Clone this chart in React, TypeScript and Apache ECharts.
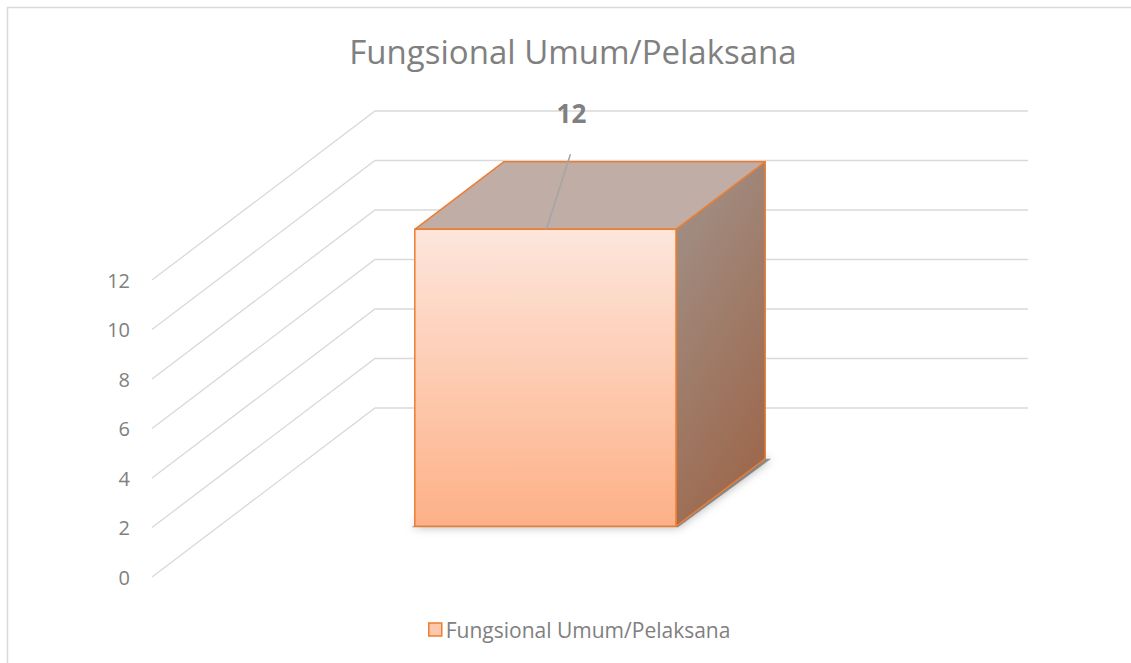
import React, { useEffect, useRef } from "react";
import * as echarts from "echarts";

const chartTitle = "Fungsional Umum/Pelaksana";
const categories = ["Fungsional Umum/Pelaksana"];
const seriesName = "Fungsional Umum/Pelaksana";
const values = [12];
const yTicks = [0, 2, 4, 6, 8, 10, 12];

const DX = 223;
const DY = -169;
const FRONT = 0.3;
const DEPTH = 0.4;
const EDGE = "#ED7D31";
const TEXT = "#808080";
const FONT = "'Open Sans', 'Noto Sans', sans-serif";

export default function App() {
  const ref = useRef<HTMLDivElement>(null);
  useEffect(() => {
    if (!ref.current) return;
    const chart = echarts.init(ref.current, undefined, { renderer: "svg" });
    const frontGrad = new echarts.graphic.LinearGradient(0, 0, 0, 1, [
      { offset: 0, color: "#FDE6DC" },
      { offset: 1, color: "#FDB087" },
    ]);
    const sideGrad = new echarts.graphic.LinearGradient(0, 0, 0.4, 1, [
      { offset: 0, color: "#A1938C" },
      { offset: 1, color: "#9D6A4F" },
    ]);
    const option: any = {
      animation: false,
      backgroundColor: "#fff",
      textStyle: { fontFamily: FONT },
      title: {
        text: chartTitle,
        left: 573,
        textAlign: "center",
        top: 35,
        padding: 0,
        textStyle: { fontSize: 33, fontWeight: "normal", color: TEXT, fontFamily: FONT },
      },
      graphic: [
        {
          type: "polyline",
          shape: { points: [[7.5, 900], [7.5, 7.5], [1400, 7.5]] },
          style: { fill: "none", stroke: "#D9D9D9", lineWidth: 1.5 },
          silent: true,
        },
      ],
      legend: {
        left: 428,
        top: 619,
        padding: 0,
        icon: "rect",
        itemWidth: 13,
        itemHeight: 13,
        itemGap: 6,
        textStyle: { fontSize: 21, color: TEXT, fontFamily: FONT, padding: [0, 0, 0, -1] },
        data: [
          {
            name: seriesName,
            itemStyle: { color: "#FDC8AC", borderColor: EDGE, borderWidth: 1.5 },
          },
        ],
      },
      grid: { left: 152, top: 280, width: 653, height: 297 },
      xAxis: {
        type: "category",
        data: categories,
        show: false,
        boundaryGap: true,
      },
      yAxis: {
        type: "value",
        min: 0,
        max: 12,
        interval: 2,
        axisLine: { show: false },
        axisTick: { show: false },
        splitLine: { show: false },
        axisLabel: { color: TEXT, fontSize: 20, margin: 22, fontFamily: FONT },
      },
      series: [
        {
          type: "custom",
          name: "walls",
          silent: true,
          z: 1,
          data: yTicks.map((v) => [0, v]),
          renderItem: (params: any, api: any) => {
            const cs = params.coordSys;
            const p = api.coord([0, api.value(1)]);
            const y = p[1];
            return {
              type: "polyline",
              shape: {
                points: [
                  [cs.x, y],
                  [cs.x + DX, y + DY],
                  [cs.x + cs.width + DX, y + DY],
                ],
              },
              style: { fill: "none", stroke: "#D9D9D9", lineWidth: 1.3 },
            };
          },
        },
        {
          type: "custom",
          name: seriesName,
          z: 2,
          itemStyle: { color: "#FDC8AC", borderColor: EDGE },
          data: values.map((v, i) => [i, v]),
          renderItem: (params: any, api: any) => {
            const base = api.coord([api.value(0), 0]);
            const top = api.coord([api.value(0), api.value(1)]);
            const bw = api.size([1, 0])[0] * 0.4;
            const xL = base[0] - bw / 2 + FRONT * DX;
            const xR = xL + bw;
            const yB = base[1] + FRONT * DY;
            const yT = top[1] + FRONT * DY;
            const ddx = DEPTH * DX;
            const ddy = DEPTH * DY;
            const cx = (xL + xR) / 2;
            return {
              type: "group",
              children: [
                {
                  type: "polygon",
                  shape: {
                    points: [
                      [xL - 3, yB + 1],
                      [xR + 2, yB + 1],
                      [xR + ddx + 6, yB + ddy],
                      [xL + ddx, yB + ddy],
                    ],
                  },
                  style: {
                    fill: "rgba(80,80,80,0.6)",
                    shadowBlur: 10,
                    shadowColor: "rgba(0,0,0,0.5)",
                  },
                },
                {
                  type: "polygon",
                  shape: {
                    points: [
                      [xR, yT],
                      [xR + ddx, yT + ddy],
                      [xR + ddx, yB + ddy],
                      [xR, yB],
                    ],
                  },
                  style: { fill: sideGrad, stroke: EDGE, lineWidth: 1.5, lineJoin: "round" },
                },
                {
                  type: "polygon",
                  shape: {
                    points: [
                      [xL, yT],
                      [xR, yT],
                      [xR + ddx, yT + ddy],
                      [xL + ddx, yT + ddy],
                    ],
                  },
                  style: { fill: "#C0ADA5", stroke: EDGE, lineWidth: 1.5, lineJoin: "round" },
                },
                {
                  type: "rect",
                  shape: { x: xL, y: yT, width: bw, height: yB - yT },
                  style: { fill: frontGrad, stroke: EDGE, lineWidth: 1.5 },
                },
                {
                  type: "line",
                  shape: { x1: cx + 1, y1: yT, x2: cx + 25, y2: yT - 75 },
                  style: { stroke: "#A5A5A5", lineWidth: 1.5 },
                },
                {
                  type: "text",
                  x: cx + 26,
                  y: yT - 116,
                  style: {
                    text: String(api.value(1)),
                    fill: TEXT,
                    fontSize: 26,
                    fontWeight: "bold",
                    fontFamily: FONT,
                    align: "center",
                    verticalAlign: "middle",
                  },
                },
              ],
            };
          },
        },
      ],
    };
    chart.setOption(option);
    return () => chart.dispose();
  }, []);
  return (
    <div
      ref={ref}
      style={{ position: "absolute", left: 0, top: 0, width: 1131, height: 663 }}
    />
  );
}
